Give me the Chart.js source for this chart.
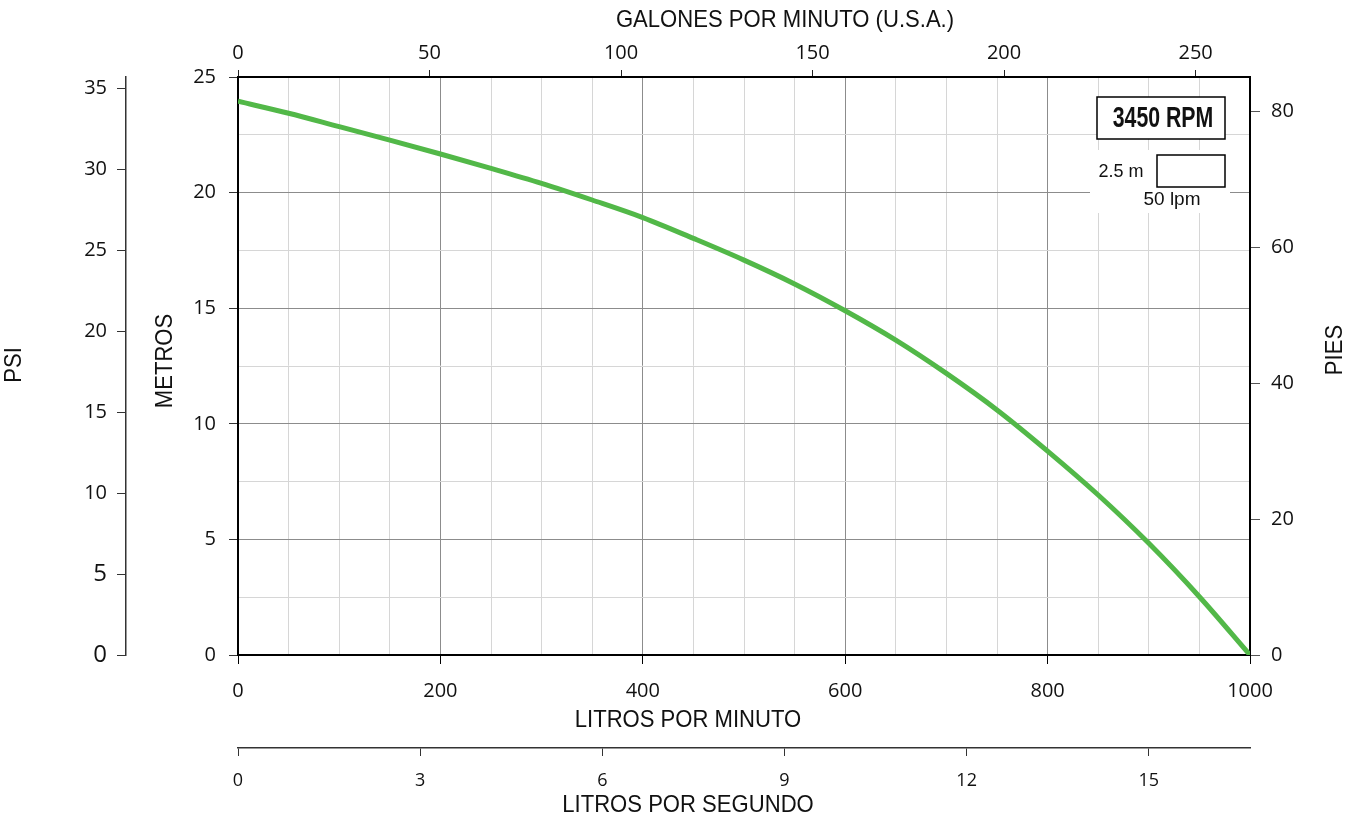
<!DOCTYPE html>
<html>
<head>
<meta charset="utf-8">
<script src="https://cdn.jsdelivr.net/npm/chart.js@4.4.1/dist/chart.umd.min.js"></script>
<style>
  body { margin: 0; background: #fff; }
</style>
</head>
<body>
<canvas id="grafica" width="1354" height="816"></canvas>
<script>
// caudal en litros por minuto y altura en metros
const caudalLpm = [0, 50, 100, 150, 200, 250, 300, 350, 400, 450, 500,
                   550, 600, 650, 700, 750, 800, 850, 900, 950, 1000];
const alturaMetros = [23.95, 23.43, 22.85, 22.27, 21.67, 21.05, 20.40, 19.68, 18.92, 18.02, 17.08,
                      16.05, 14.89, 13.62, 12.18, 10.60, 8.82, 6.92, 4.83, 2.52, 0];

// limites de los ejes secundarios (mismo recuadro que lpm / metros)
const maxLpm = 1000;
const maxMetros = 25;
const maxGalones = 1000 / 3.785;
const maxLps = 1000 / 60;
const maxPies = 85.1;
const maxPsi = 35.7;

const tickFont = { family: '"Open Sans"', size: 20 };
const gridFuerte = '#8c8c8c';
const gridSuave = '#d6d6d6';
const invisible = 'rgba(0,0,0,0)';

function texto(ctx, str, x, y, rot, font, sx) {
  ctx.save();
  ctx.translate(x, y);
  if (rot) ctx.rotate(rot);
  ctx.scale(sx, 1);
  ctx.font = font;
  ctx.fillStyle = '#111';
  ctx.textAlign = 'center';
  ctx.textBaseline = 'middle';
  ctx.fillText(str, 0, 0);
  ctx.restore();
}

// titulos de ejes y recuadros de la esquina
const rotulos = {
  id: 'rotulos',
  afterDatasetsDraw(chart) {
    const ctx = chart.ctx;
    const a = chart.chartArea;
    const tf = '24px "Liberation Sans"';

    texto(ctx, 'GALONES POR MINUTO (U.S.A.)', a.left + 547, 20, 0, tf, 0.92);
    texto(ctx, 'LITROS POR MINUTO', a.left + 450, a.bottom + 65, 0, tf, 0.92);
    texto(ctx, 'LITROS POR SEGUNDO', a.left + 450, a.bottom + 150, 0, tf, 0.92);
    texto(ctx, 'METROS', a.left - 73, a.top + 284, -Math.PI / 2, tf, 0.92);
    texto(ctx, 'PSI', 14, a.top + 288, -Math.PI / 2, tf, 0.92);
    texto(ctx, 'PIES', a.right + 85, a.top + 273, -Math.PI / 2, tf, 0.92);

    ctx.save();
    // recuadro RPM
    const bx = a.right - 153, by = a.top + 20, bw = 128, bh = 42;
    ctx.fillStyle = '#fff';
    ctx.fillRect(bx, by, bw, bh);
    ctx.strokeStyle = '#000';
    ctx.lineWidth = 1.5;
    ctx.strokeRect(bx, by, bw, bh);
    // escala de la cuadricula
    ctx.fillStyle = '#fff';
    ctx.fillRect(a.right - 160, a.top + 73, 140, 63);
    ctx.strokeRect(a.right - 93, a.top + 78, 68, 32);
    ctx.restore();

    texto(ctx, '3450 RPM', bx + bw / 2 + 2, by + bh / 2 + 1, 0, 'bold 30px "Liberation Sans"', 0.71);
    texto(ctx, '2.5 m', a.right - 129, a.top + 95, 0, '18px "Liberation Sans"', 1);
    texto(ctx, '50 lpm', a.right - 78, a.top + 123, 0, '19px "Liberation Sans"', 1);
  }
};

const ctx = document.getElementById('grafica').getContext('2d');

new Chart(ctx, {
  type: 'line',
  data: {
    datasets: [{
      label: '3450 RPM',
      data: caudalLpm.map((q, i) => ({ x: q, y: alturaMetros[i] })),
      borderColor: '#52b848',
      borderWidth: 5,
      pointRadius: 0,
      cubicInterpolationMode: 'monotone',
      xAxisID: 'x',
      yAxisID: 'y'
    }]
  },
  options: {
    responsive: false,
    animation: false,
    layout: { padding: 0 },
    plugins: {
      legend: { display: false },
      tooltip: { enabled: false }
    },
    scales: {
      x: {
        type: 'linear',
        position: 'bottom',
        weight: 0,
        min: 0,
        max: maxLpm,
        afterFit: (s) => { s.height = 93; },
        border: { color: '#000', width: 2 },
        grid: {
          color: (c) => c.tick.value % 200 === 0 ? gridFuerte : gridSuave,
          tickColor: (c) => c.tick.value % 200 === 0 ? '#000' : invisible,
          tickLength: 9
        },
        ticks: {
          stepSize: 50,
          autoSkip: false,
          maxRotation: 0,
          padding: 15,
          color: '#111',
          font: tickFont,
          callback: (v) => v % 200 === 0 ? v : ''
        }
      },
      lps: {
        type: 'linear',
        position: 'bottom',
        weight: 1,
        min: 0,
        max: maxLps,
        afterFit: (s) => { s.height = 68; },
        border: { color: '#333', width: 1.5 },
        grid: { drawOnChartArea: false, tickColor: '#333', tickLength: 8 },
        ticks: {
          stepSize: 3,
          includeBounds: false,
          maxRotation: 0,
          padding: 14,
          color: '#111',
          font: { family: '"Open Sans"', size: 18 }
        }
      },
      gal: {
        type: 'linear',
        position: 'top',
        min: 0,
        max: maxGalones,
        afterFit: (s) => { s.height = 77; },
        border: { color: '#000', width: 2 },
        grid: { drawOnChartArea: false, tickColor: '#222', tickLength: 7 },
        ticks: {
          stepSize: 50,
          includeBounds: false,
          maxRotation: 0,
          padding: 5,
          color: '#111',
          font: tickFont
        }
      },
      y: {
        type: 'linear',
        position: 'left',
        weight: 0,
        min: 0,
        max: maxMetros,
        afterFit: (s) => { s.width = 112; },
        border: { color: '#000', width: 2 },
        grid: {
          color: (c) => c.tick.value % 5 === 0 ? gridFuerte : gridSuave,
          tickColor: (c) => c.tick.value % 5 === 0 ? '#333' : invisible,
          tickLength: 9
        },
        ticks: {
          stepSize: 2.5,
          autoSkip: false,
          padding: 13,
          color: '#111',
          font: tickFont,
          callback: (v) => v % 5 === 0 ? v : ''
        }
      },
      psi: {
        type: 'linear',
        position: 'left',
        weight: 1,
        min: 0,
        max: maxPsi,
        afterFit: (s) => { s.width = 126; },
        border: { color: '#333', width: 1.5 },
        grid: { drawOnChartArea: false, tickColor: '#333', tickLength: 9 },
        ticks: {
          stepSize: 5,
          includeBounds: false,
          padding: 10,
          color: '#111',
          font: (c) => ({ family: '"Open Sans"', size: c.tick && c.tick.value <= 5 ? 24 : 20 })
        }
      },
      pies: {
        type: 'linear',
        position: 'right',
        min: 0,
        max: maxPies,
        afterFit: (s) => { s.width = 104; },
        border: { color: '#000', width: 2 },
        grid: { drawOnChartArea: false, tickColor: '#555', tickLength: 10 },
        ticks: {
          stepSize: 20,
          includeBounds: false,
          padding: 11,
          color: '#111',
          font: tickFont
        }
      }
    }
  },
  plugins: [rotulos]
});
</script>
</body>
</html>
